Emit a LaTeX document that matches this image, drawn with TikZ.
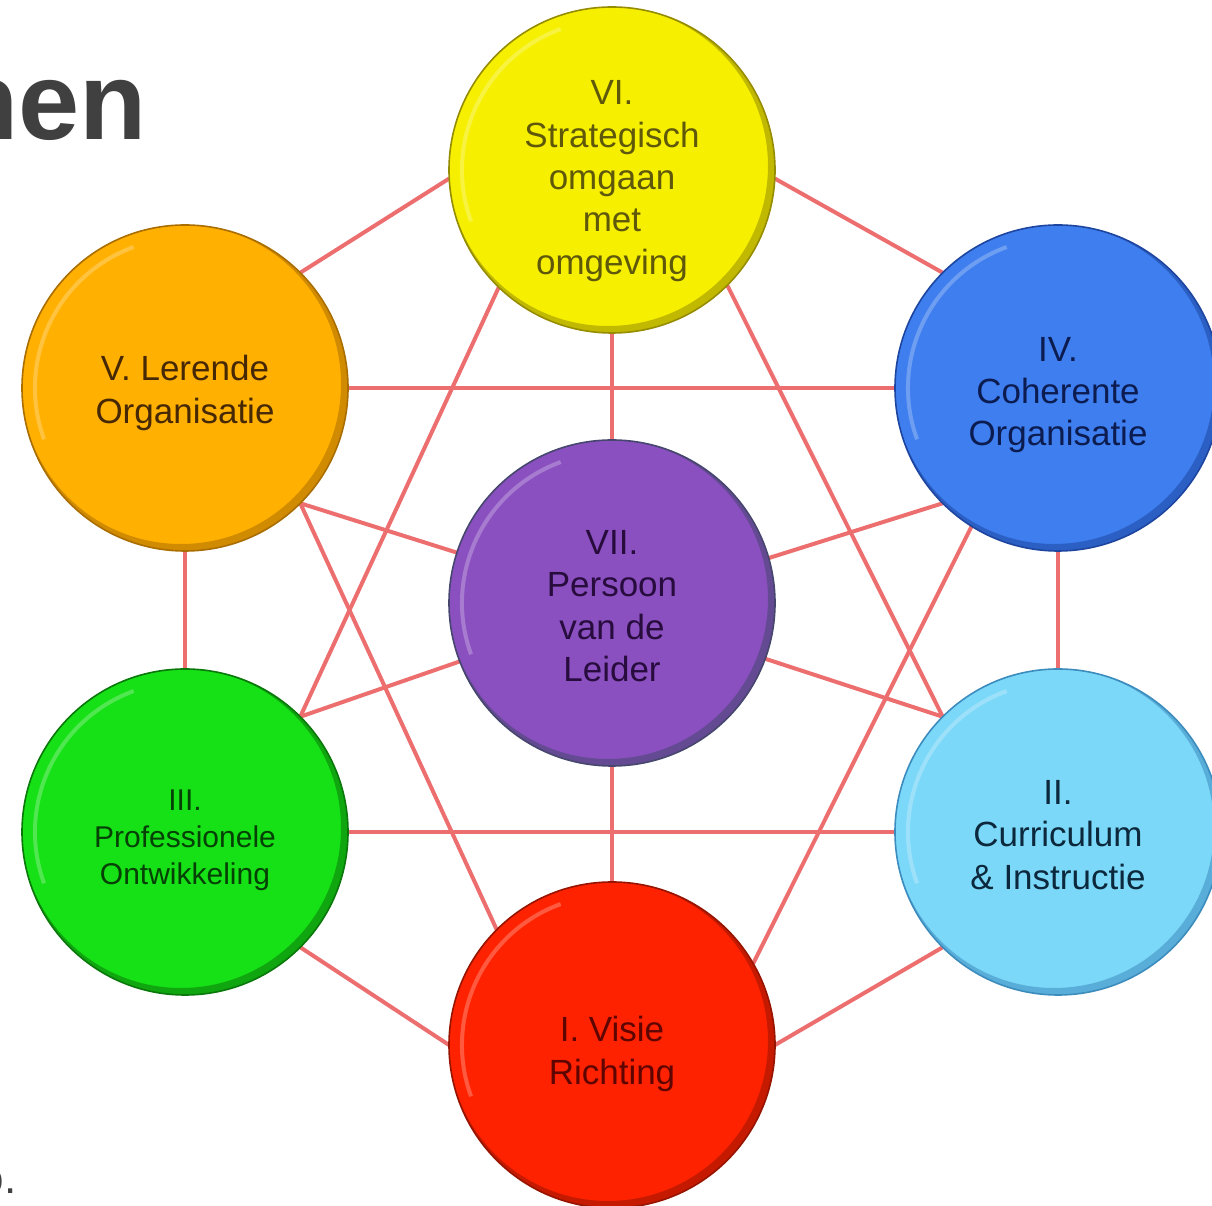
\documentclass[tikz,border=0pt]{standalone}
\usepackage{fontspec}
\setmainfont{Liberation Sans}
\pgfdeclarelayer{bg}
\pgfsetlayers{bg,main}
\definecolor{cYel}{RGB}{246,240,0}
\definecolor{cYelR}{RGB}{150,140,0}
\definecolor{cYelT}{RGB}{95,88,10}
\definecolor{cOra}{RGB}{255,176,0}
\definecolor{cOraR}{RGB}{170,110,0}
\definecolor{cOraT}{RGB}{70,40,5}
\definecolor{cBlu}{RGB}{62,126,238}
\definecolor{cBluR}{RGB}{30,70,160}
\definecolor{cBluT}{RGB}{12,28,80}
\definecolor{cPur}{RGB}{138,80,192}
\definecolor{cPurR}{RGB}{70,70,110}
\definecolor{cPurT}{RGB}{40,12,62}
\definecolor{cGre}{RGB}{22,224,22}
\definecolor{cGreR}{RGB}{10,120,10}
\definecolor{cGreT}{RGB}{5,65,5}
\definecolor{cLbl}{RGB}{124,216,248}
\definecolor{cLblR}{RGB}{60,140,190}
\definecolor{cLblT}{RGB}{12,40,60}
\definecolor{cRed}{RGB}{255,34,0}
\definecolor{cRedR}{RGB}{150,20,0}
\definecolor{cRedT}{RGB}{95,5,0}
\definecolor{cLine}{RGB}{236,110,110}
\definecolor{cHead}{RGB}{64,64,64}
\tikzset{
  ball/.style 2 args={circle, minimum size=163pt, inner sep=0pt, outer sep=0pt,
    fill=#1, draw=#2, line width=0.8pt,
    path picture={
      \draw[#2, line width=10pt, opacity=0.55]
        ([shift={(-2pt,2pt)}]path picture bounding box.center) circle (85pt);
      \draw[white, opacity=0.25, line width=2pt]
        ([shift={(110:75pt)}]path picture bounding box.center) arc (110:200:75pt);
    }},
  txt/.style={align=center, inner sep=0pt, font=\fontsize{17.5}{21.2}\selectfont},
  link/.style={draw=cLine, line width=2pt},
  head/.style={inner sep=0pt, text=cHead}
}
\begin{document}
\begin{tikzpicture}[x=0.5pt,y=0.5pt]
\useasboundingbox (0,0) rectangle (1212,1206);
\clip (0,0) rectangle (1212,1206);
\node[head, anchor=base east, font=\fontsize{55}{60}\selectfont\bfseries] (title) at (147,1066) {hen};
\node[head, anchor=base east, font=\fontsize{22}{26}\selectfont] (foot) at (17,12) {o.};

\node[ball={cYel}{cYelR}] (VI) at (612,1036) {};
\node[ball={cOra}{cOraR}] (V) at (185,818) {};
\node[ball={cBlu}{cBluR}] (IV) at (1058,818) {};
\node[ball={cPur}{cPurR}] (VII) at (612,603) {};
\node[ball={cGre}{cGreR}] (III) at (185,374) {};
\node[ball={cLbl}{cLblR}] (II) at (1058,374) {};
\node[ball={cRed}{cRedR}] (I) at (612,161) {};

\node[txt, text=cYelT] (VIt) at ([yshift=-5.5pt]VI.center) {VI.\\Strategisch\\omgaan\\met\\omgeving};
\node[txt, text=cOraT] (Vt) at ([yshift=-2.5pt]V.center) {V. Lerende\\Organisatie};
\node[txt, text=cBluT] (IVt) at ([yshift=-3.5pt]IV.center) {IV.\\Coherente\\Organisatie};
\node[txt, text=cPurT] (VIIt) at ([yshift=-1.5pt]VII.center) {VII.\\Persoon\\van de\\Leider};
\node[txt, text=cGreT, font=\fontsize{15}{18.5}\selectfont] (IIIt) at ([yshift=-4pt]III.center) {III.\\Professionele\\Ontwikkeling};
\node[txt, text=cLblT] (IIt) at ([yshift=-1.5pt]II.center) {II.\\Curriculum\\\& Instructie};
\node[txt, text=cRedT] (It) at ([yshift=-4.5pt]I.center) {I. Visie\\Richting};

\begin{pgfonlayer}{bg}
\draw[link] (VI.183) -- (V.45);
\draw[link] (VI.-3) -- (IV.135);
\draw[link] (VI.270) -- (VII.90);
\draw[link] (VI.226) -- (III.45);
\draw[link] (VI.-45) -- (II.135);
\draw[link] (V.0) -- (IV.180);
\draw[link] (V.-45) -- (VII.162);
\draw[link] (V.-45) -- (I.135);
\draw[link] (V.270) -- (III.90);
\draw[link] (IV.225) -- (VII.16);
\draw[link] (IV.238) -- (I.30);
\draw[link] (IV.270) -- (II.90);
\draw[link] (VII.201) -- (III.45);
\draw[link] (VII.-20) -- (II.135);
\draw[link] (VII.270) -- (I.90);
\draw[link] (III.0) -- (II.180);
\draw[link] (III.-45) -- (I.180);
\draw[link] (II.225) -- (I.0);
\end{pgfonlayer}
\end{tikzpicture}
\end{document}
